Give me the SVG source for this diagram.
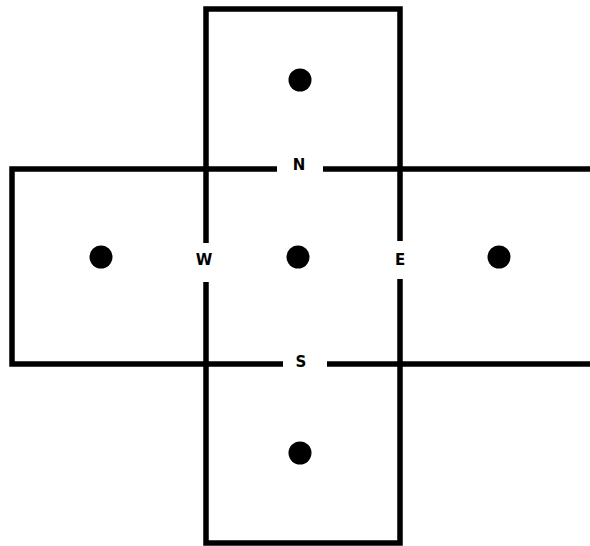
<svg xmlns="http://www.w3.org/2000/svg" width="590" height="546" viewBox="0 0 590 546">
<style>
.ln{fill:none;stroke:#000;stroke-width:5.5;stroke-linejoin:miter;stroke-linecap:butt}
.dot{fill:#000}
.lbl{font-family:"DejaVu Sans",Verdana,sans-serif;font-weight:bold;font-size:15px;fill:#000;text-anchor:middle;dominant-baseline:central}
</style>
<rect width="590" height="546" fill="#fff"/>
<g id="connectors">
<path class="ln" d="M277,169 H12 V364 H283"/>
<path class="ln" d="M323,169 H590"/>
<path class="ln" d="M327,364 H590"/>
<path class="ln" d="M206,243 V9 H400 V241"/>
<path class="ln" d="M206,282 V543 H400 V279"/>
</g>
<g id="north"><circle class="dot" cx="300" cy="80" r="11.5"/></g>
<g id="west"><circle class="dot" cx="101" cy="257" r="11.5"/></g>
<g id="center"><circle class="dot" cx="298" cy="257" r="11.5"/></g>
<g id="east"><circle class="dot" cx="499" cy="257" r="11.5"/></g>
<g id="south"><circle class="dot" cx="300" cy="453" r="11.5"/></g>
<g id="label-n"><text class="lbl" x="299" y="165">N</text></g>
<g id="label-w"><text class="lbl" x="204" y="260">W</text></g>
<g id="label-e"><text class="lbl" x="400" y="260">E</text></g>
<g id="label-s"><text class="lbl" x="301" y="362">S</text></g>
</svg>
